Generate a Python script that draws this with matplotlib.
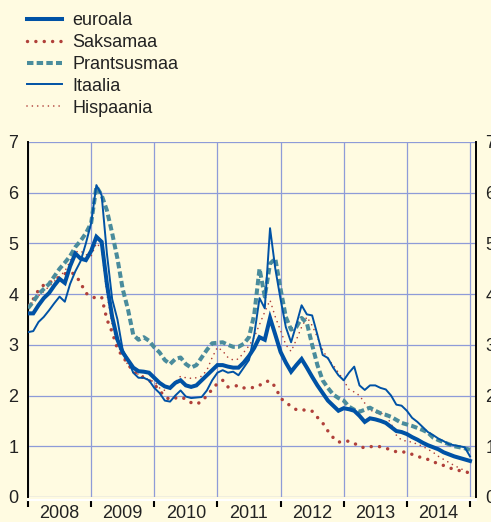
import matplotlib
matplotlib.use("Agg")
import matplotlib.pyplot as plt
import numpy as np

# monthly values, Jan 2008 ... Jan 2015
euroala = [3.62, 3.62, 3.78, 3.92, 4.02, 4.17, 4.30, 4.22, 4.55, 4.80, 4.70, 4.67,
           4.85, 5.13, 5.03, 4.20, 3.55, 3.10, 2.85, 2.70, 2.55, 2.48, 2.47, 2.45,
           2.35, 2.25, 2.18, 2.15, 2.25, 2.30, 2.20, 2.17, 2.20, 2.30, 2.40, 2.50,
           2.60, 2.60, 2.57, 2.55, 2.55, 2.65, 2.78, 2.94, 3.15, 3.10, 3.53, 3.20,
           2.86, 2.65, 2.47, 2.60, 2.72, 2.55, 2.37, 2.20, 2.05, 1.90, 1.80, 1.70,
           1.75, 1.73, 1.70, 1.60, 1.48, 1.55, 1.53, 1.50, 1.46, 1.38, 1.30, 1.28,
           1.24, 1.18, 1.13, 1.07, 1.02, 0.98, 0.94, 0.88, 0.84, 0.80, 0.77, 0.74,
           0.71]
saksamaa = [3.78, 3.90, 4.08, 4.18, 4.22, 4.28, 4.34, 4.40, 4.44, 4.38, 4.22, 4.02,
            3.95, 3.92, 3.94, 3.50, 3.25, 2.92, 2.77, 2.62, 2.48, 2.40, 2.35, 2.30,
            2.22, 2.10, 1.98, 1.92, 1.95, 1.97, 1.93, 1.86, 1.83, 1.88, 2.00, 2.12,
            2.24, 2.30, 2.17, 2.18, 2.20, 2.15, 2.15, 2.16, 2.20, 2.27, 2.29, 2.17,
            1.95, 1.86, 1.79, 1.72, 1.71, 1.72, 1.69, 1.57, 1.46, 1.30, 1.17, 1.08,
            1.10, 1.10, 1.06, 0.99, 0.97, 0.99, 1.00, 0.99, 0.96, 0.93, 0.89, 0.89,
            0.88, 0.84, 0.80, 0.77, 0.74, 0.69, 0.66, 0.62, 0.58, 0.54, 0.52, 0.50,
            0.47]
prantsusmaa = [3.72, 3.85, 4.00, 4.10, 4.20, 4.35, 4.50, 4.62, 4.75, 4.93, 5.05, 5.20,
               5.40, 6.12, 5.95, 5.65, 5.20, 4.70, 4.10, 3.70, 3.20, 3.10, 3.15, 3.08,
               2.95, 2.85, 2.70, 2.62, 2.72, 2.75, 2.62, 2.55, 2.60, 2.75, 2.90, 3.03,
               3.04, 3.05, 3.00, 2.96, 2.96, 3.02, 3.15, 3.60, 4.50, 3.95, 4.60, 4.70,
               4.10, 3.55, 3.30, 3.35, 3.53, 3.43, 3.00, 2.60, 2.30, 2.15, 2.02, 1.95,
               1.90, 1.78, 1.72, 1.68, 1.72, 1.76, 1.70, 1.65, 1.62, 1.58, 1.52, 1.46,
               1.43, 1.40, 1.36, 1.32, 1.27, 1.17, 1.12, 1.08, 1.04, 1.00, 0.98, 0.96,
               0.93]
itaalia = [3.25, 3.27, 3.45, 3.55, 3.68, 3.82, 3.95, 3.85, 4.20, 4.45, 4.65, 5.00,
           5.40, 6.15, 5.95, 4.80, 3.90, 3.50, 2.90, 2.70, 2.45, 2.35, 2.35, 2.30,
           2.15, 2.05, 1.90, 1.88, 2.00, 2.10, 1.98, 1.95, 1.96, 1.97, 2.10, 2.30,
           2.45, 2.50, 2.45, 2.47, 2.40, 2.55, 2.70, 3.20, 3.92, 3.72, 5.30, 4.50,
           3.90, 3.35, 3.05, 3.40, 3.78, 3.60, 3.58, 3.20, 2.80, 2.74, 2.55, 2.40,
           2.30, 2.45, 2.57, 2.20, 2.11, 2.20, 2.20, 2.15, 2.12, 2.00, 1.82, 1.80,
           1.70, 1.56, 1.48, 1.38, 1.28, 1.22, 1.15, 1.10, 1.04, 1.02, 1.00, 0.98,
           0.80]
hispaania = [3.75, 3.85, 3.97, 4.05, 4.15, 4.25, 4.35, 4.45, 4.65, 4.83, 4.85, 4.78,
             4.75, 5.00, 4.90, 4.00, 3.40, 3.00, 2.80, 2.60, 2.45, 2.42, 2.38, 2.30,
             2.28, 2.15, 2.10, 2.15, 2.27, 2.38, 2.35, 2.34, 2.35, 2.38, 2.50, 2.75,
             2.95, 2.88, 2.75, 2.70, 2.72, 2.85, 2.98, 3.15, 3.40, 3.65, 3.88, 3.55,
             3.28, 3.00, 2.87, 3.10, 3.35, 3.55, 3.38, 3.15, 2.90, 2.72, 2.60, 2.45,
             2.30, 2.12, 2.07, 2.00, 1.85, 1.72, 1.66, 1.66, 1.60, 1.45, 1.22, 1.12,
             1.10, 1.08, 1.04, 1.00, 0.94, 0.88, 0.80, 0.74, 0.68, 0.62, 0.57, 0.52,
             0.47]
years = ["2008", "2009", "2010", "2011", "2012", "2013", "2014"]

bg = "#fffbe1"
blue = "#0052a5"
red = "#b0403a"
teal = "#4a8c9c"
gridc = "#8e9bd8"

plt.rcParams['font.family'] = ['Liberation Sans Narrow', 'Liberation Sans', 'DejaVu Sans']

fig = plt.figure(figsize=(4.91, 5.22), dpi=100, facecolor=bg)
ax = fig.add_axes([0.057, 0.048, 0.912, 0.680], facecolor=bg)

m = np.arange(len(euroala))
l1, = ax.plot(m, euroala, color=blue, lw=2.9, zorder=6, label="euroala",
              solid_joinstyle='miter')
l2, = ax.plot(m, saksamaa, color=red, lw=2.5, ls=(0, (0.01, 2.4)),
              dash_capstyle='round', zorder=3, label="Saksamaa")
l3, = ax.plot(m, prantsusmaa, color=teal, lw=2.9, ls=(0, (1.6, 0.8)),
              zorder=4, label="Prantsusmaa")
l4, = ax.plot(m, itaalia, color=blue, lw=1.4, zorder=5, label="Itaalia")
l5, = ax.plot(m, hispaania, color=red, lw=1.2, ls=(0, (0.01, 3.2)),
              dash_capstyle='round', zorder=2, label="Hispaania")

ax.set_xlim(0, 85.1)
ax.set_ylim(0, 7)
ax.set_yticks(range(0, 8))
ax.set_xticks(np.arange(0, 85, 12))
ax.set_xticks(np.arange(6, 84, 12), minor=True)
ax.set_xticklabels([])
ax.set_xticklabels(years, minor=True)
ax.grid(True, color=gridc, lw=0.9, zorder=0)
ax.set_axisbelow(True)

ax.tick_params(axis='y', length=0, pad=7, labelsize=13, labelcolor='#222222',
               labelright=True, right=False)
ax.tick_params(axis='x', which='major', direction='out', length=5, width=1.5,
               color='black')
ax.tick_params(axis='x', which='minor', length=0, pad=4, labelsize=13,
               labelcolor='#222222')

ax.spines['top'].set_visible(False)
ax.spines['left'].set_color('black')
ax.spines['left'].set_linewidth(1.4)
ax.spines['right'].set_color('black')
ax.spines['right'].set_linewidth(1.4)
ax.spines['bottom'].set_color('white')
ax.spines['bottom'].set_linewidth(1.5)
ax.spines['bottom'].set_position(('outward', 2))

fig.legend(handles=[l1, l2, l3, l4, l5], loc='upper left',
           bbox_to_anchor=(0.022, 1.008), frameon=False, fontsize=13,
           handlelength=1.95, handletextpad=0.55, labelspacing=0.27,
           labelcolor='#222222')

fig.savefig("out.png", dpi=100, facecolor=bg)
